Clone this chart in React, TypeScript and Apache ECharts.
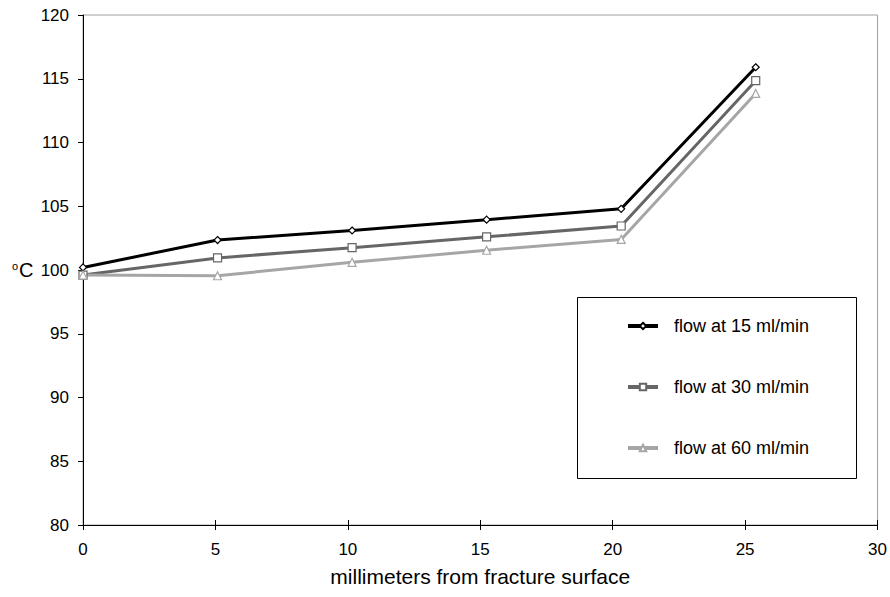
import React, { useEffect, useRef } from "react";
import * as echarts from "echarts";

const distanceMm = [0, 5.08, 10.16, 15.24, 20.32, 25.4];
const flow15 = [100.2, 102.35, 103.1, 103.95, 104.8, 115.9];
const flow30 = [99.6, 100.95, 101.75, 102.6, 103.45, 114.85];
const flow60 = [99.6, 99.55, 100.6, 101.55, 102.4, 113.85];
const seriesNames = ["flow at 15 ml/min", "flow at 30 ml/min", "flow at 60 ml/min"];
const xAxisTitle = "millimeters from fracture surface";

const FONT = "'Liberation Sans', Arial, sans-serif";

export default function App() {
  const ref = useRef<HTMLDivElement>(null);
  useEffect(() => {
    if (!ref.current) return;
    const chart = echarts.init(ref.current, null, { renderer: "svg" });
    const pairs = (ys: number[]) => distanceMm.map((x, i) => [x, ys[i]]);
    const mk = (name: string, ys: number[], color: string, symbol: string, size: number) => ({
      name,
      type: "line",
      data: pairs(ys),
      symbol,
      symbolSize: size,
      showAllSymbol: true,
      lineStyle: { color, width: 3 },
      itemStyle: { color: "#ffffff", borderColor: color, borderWidth: 1.2 },
      emphasis: { disabled: true },
      z: 3,
    });
    chart.setOption({
      animation: false,
      backgroundColor: "#ffffff",
      textStyle: { fontFamily: FONT },
      grid: {
        left: 83,
        top: 15,
        right: 12,
        bottom: 72,
        show: true,
        borderColor: "#a0a0a0",
        borderWidth: 1,
        backgroundColor: "transparent",
      },
      xAxis: [
        {
          type: "value",
          min: 0,
          max: 30,
          interval: 5,
          name: xAxisTitle,
          nameLocation: "middle",
          nameGap: 41,
          nameTextStyle: { fontSize: 21, color: "#000", fontFamily: FONT },
          axisLine: { show: true, onZero: false, lineStyle: { color: "#000", width: 1 } },
          axisTick: { show: true, length: 5, lineStyle: { color: "#000" } },
          axisLabel: { fontSize: 17, color: "#000", margin: 16, fontFamily: FONT },
          splitLine: { show: false },
        },
        {
          type: "value",
          min: 0,
          max: 30,
          interval: 5,
          position: "bottom",
          axisLine: { show: false },
          axisTick: { show: true, inside: true, length: 5, lineStyle: { color: "#000" } },
          axisLabel: { show: false },
          splitLine: { show: false },
        },
      ],
      yAxis: {
        type: "value",
        min: 80,
        max: 120,
        interval: 5,
        axisLine: { show: true, onZero: false, lineStyle: { color: "#000", width: 1 } },
        axisTick: { show: true, length: 5, lineStyle: { color: "#000" } },
        axisLabel: { fontSize: 17, color: "#000", margin: 14, fontFamily: FONT },
        splitLine: { show: false },
      },
      legend: {
        orient: "vertical",
        left: 626,
        top: 316,
        padding: 0,
        itemWidth: 30,
        itemHeight: 8,
        itemGap: 41,
        selectedMode: false,
        lineStyle: { width: 4 },
        textStyle: { fontSize: 18, color: "#000", fontFamily: FONT, lineHeight: 20, padding: [0, 0, 0, 11] },
        data: seriesNames,
      },
      graphic: [
        {
          type: "rect",
          left: 577,
          top: 297,
          shape: { width: 279, height: 181 },
          style: { fill: "#fff", stroke: "#000", lineWidth: 1 },
          z: 1,
        },
        {
          type: "text",
          left: 12,
          top: 260,
          style: {
            text: "{sup|o}{c|C}",
            rich: {
              sup: { fontSize: 11, fontFamily: FONT, fill: "#000", verticalAlign: "top", padding: [0, 1, 9, 0] },
              c: { fontSize: 20, fontFamily: FONT, fill: "#000" },
            },
          },
        },
      ],
      series: [
        mk(seriesNames[0], flow15, "#000000", "diamond", 7),
        mk(seriesNames[1], flow30, "#666666", "rect", 8),
        mk(seriesNames[2], flow60, "#a6a6a6", "triangle", 8),
      ],
    });
    return () => chart.dispose();
  }, []);
  return (
    <div
      ref={ref}
      style={{ position: "fixed", left: 0, top: 0, width: 890, height: 597, background: "#fff" }}
    />
  );
}
